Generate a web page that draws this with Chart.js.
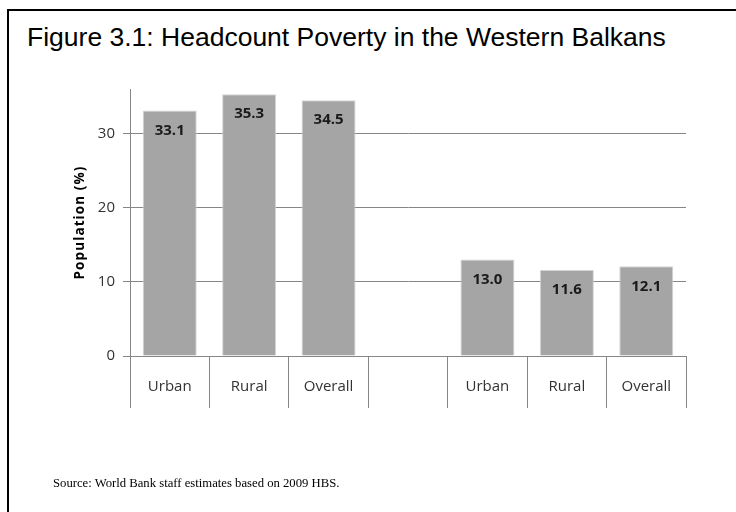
<!DOCTYPE html>
<html>
<head>
<meta charset="utf-8">
<script src="https://cdn.jsdelivr.net/npm/chart.js@4.4.1/dist/chart.umd.min.js"></script>
<style>
  html, body { margin: 0; padding: 0; background: #fff; overflow: hidden; }
  #page { width: 736px; height: 512px; position: relative; overflow: hidden; }
  .hline { position: absolute; left: 7px; top: 9px; width: 729px; height: 2px; background: #000; }
  .vline { position: absolute; left: 7px; top: 9px; width: 2px; height: 503px; background: #000; }
  .title { position: absolute; left: 27px; top: 22px; font-family: "Liberation Sans", Arial, sans-serif;
           font-size: 26.5px; color: #000; white-space: nowrap; }
  .source { position: absolute; left: 53px; top: 476px; font-family: "Liberation Serif", "Times New Roman", serif;
            font-size: 12.7px; color: #000; white-space: nowrap; }
  #wrap { position: absolute; left: 0; top: 0; width: 736px; height: 512px; }
</style>
</head>
<body>
<div id="page">
<div class="hline"></div>
<div class="vline"></div>
<div class="title">Figure 3.1: Headcount Poverty in the Western Balkans</div>
<div id="wrap"><canvas id="chart"></canvas></div>
<div class="source">Source: World Bank staff estimates based on 2009 HBS.</div>
</div>
<script>
// data
const categories = ['Urban', 'Rural', 'Overall', '', 'Urban', 'Rural', 'Overall'];
const poverty = [33.1, 35.3, 34.5, null, 13.0, 11.6, 12.1];
const yTicks = [0, 10, 20, 30];
const yTitle = 'Population (%)';

const axisGray = '#868686';
const labelFont = '"Open Sans", sans-serif';

// value labels inside the top of each bar
const barLabels = {
  id: 'barLabels',
  afterDatasetsDraw(chart) {
    const ctx = chart.ctx;
    const meta = chart.getDatasetMeta(0);
    ctx.save();
    ctx.font = 'bold 15px ' + labelFont;
    ctx.fillStyle = '#1a1a1a';
    ctx.textAlign = 'center';
    ctx.textBaseline = 'middle';
    meta.data.forEach((bar, i) => {
      const v = poverty[i];
      if (v == null) return;
      ctx.fillText(v.toFixed(1), bar.x, bar.y + 20);
    });
    ctx.restore();
  }
};

// rotated y-axis title, drawn by hand so it can get the wide letter spacing of the original
const yTitlePlugin = {
  id: 'yTitle',
  afterDraw(chart) {
    const ctx = chart.ctx;
    const area = chart.chartArea;
    ctx.save();
    ctx.translate(chart.scales.y.left + 7, (area.top + area.bottom) / 2);
    ctx.rotate(-Math.PI / 2);
    ctx.font = 'bold 13.5px ' + labelFont;
    ctx.letterSpacing = '1.1px';
    ctx.fillStyle = '#000';
    ctx.textAlign = 'center';
    ctx.textBaseline = 'middle';
    ctx.fillText(yTitle, 0, 0);
    ctx.restore();
  }
};

new Chart(document.getElementById('chart'), {
  type: 'bar',
  data: {
    labels: categories,
    datasets: [{
      data: poverty,
      backgroundColor: '#a5a5a5',
      borderColor: '#d4d4d4',
      borderWidth: { top: 1, left: 1, right: 1, bottom: 0 },
      barPercentage: 0.68,
      categoryPercentage: 1
    }]
  },
  options: {
    responsive: true,
    maintainAspectRatio: false,
    animation: false,
    layout: { padding: { left: 73, right: 50, top: 89, bottom: 104 } },
    plugins: { legend: { display: false }, tooltip: { enabled: false } },
    scales: {
      x: {
        offset: true,
        grid: { offset: true, drawOnChartArea: false, drawTicks: true, tickLength: 52, color: axisGray },
        border: { display: true, color: axisGray },
        ticks: { color: '#333', font: { family: labelFont, size: 15 }, padding: -30, maxRotation: 0 },
        afterFit: (s) => { s.height = 52; }
      },
      y: {
        min: 0,
        max: 36,
        afterBuildTicks: (s) => { s.ticks = yTicks.map(v => ({ value: v })); },
        grid: { color: axisGray, tickLength: 7 },
        border: { display: true, color: axisGray },
        ticks: { color: '#333', font: { family: labelFont, size: 15 }, padding: 8 },
        afterFit: (s) => { s.width = 57; }
      }
    }
  },
  plugins: [barLabels, yTitlePlugin]
});
</script>
</body>
</html>
